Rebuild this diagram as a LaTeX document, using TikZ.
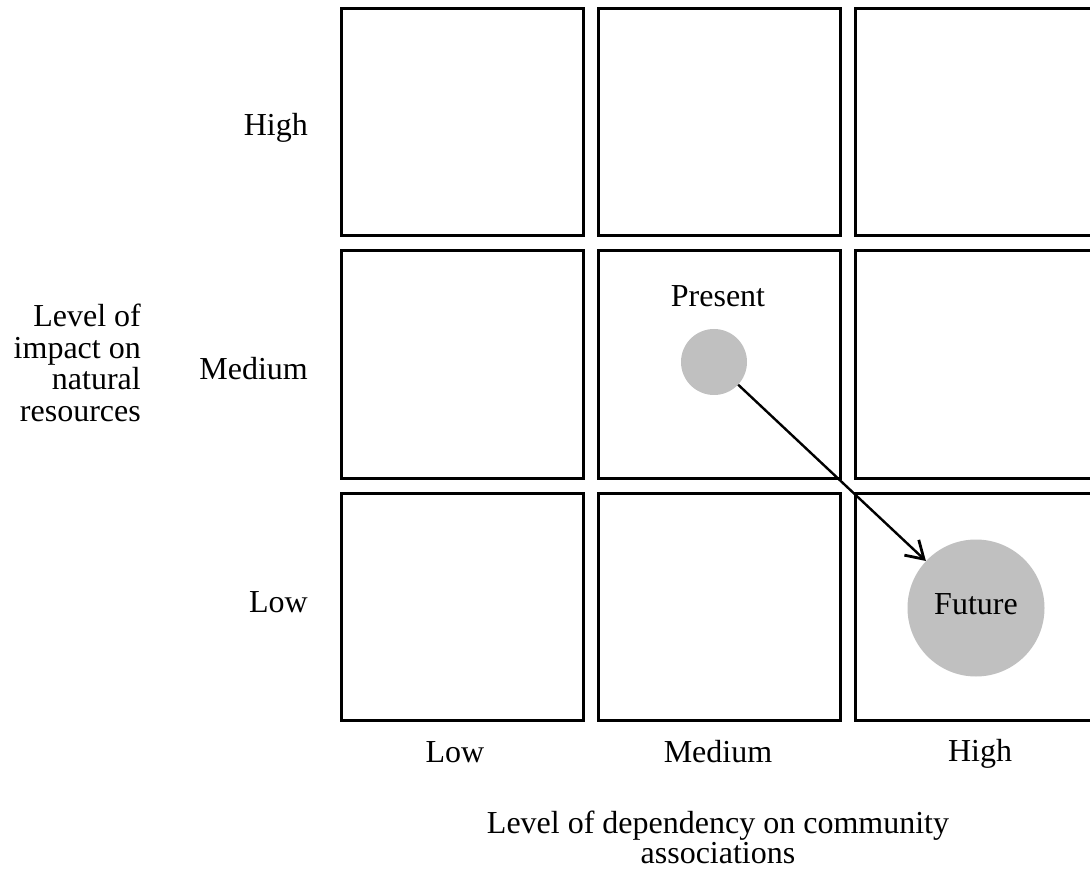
\documentclass[tikz,border=0pt]{standalone}
\usepackage{fontspec}
\setmainfont{Liberation Serif}
\usetikzlibrary{arrows.meta}
\definecolor{dotgray}{RGB}{192,192,192}
\begin{document}
\begin{tikzpicture}[x=1pt,y=-1pt,
  cell/.style={draw=black,line width=3pt},
  lbl/.style={font=\fontsize{32}{34}\selectfont,inner sep=0pt},
  dot/.style={circle,fill=dotgray,inner sep=0pt},
  link/.style={draw=black,line width=2.4pt,-{Straight Barb[length=17pt,width=21pt,line width=2.8pt]}}]
\useasboundingbox (0,0) rectangle (1090,874);
\clip (0,0) rectangle (1090,874);
\fill[white] (0,0) rectangle (1090,874);
% grid
\foreach \r/\ya/\yb in {1/9/236,2/251/478,3/493/720}{
  \draw[cell] (341,\ya) rectangle (583,\yb);
  \draw[cell] (598,\ya) rectangle (840,\yb);
  \draw[cell] (855,\ya) rectangle (1110,\yb);
}
% row labels
\node[lbl,anchor=east] (rh) at (308,128) {High};
\node[lbl,anchor=east] (rm) at (308,369) {Medium};
\node[lbl,anchor=east] (rl) at (308,602) {Low};
% column labels
\node[lbl] (cl) at (455,752) {Low};
\node[lbl] (cm) at (718,752) {Medium};
\node[lbl] (ch) at (980,754) {High};
% axis titles
\node[lbl,align=right,anchor=east,font=\fontsize{32}{31.5}\selectfont] (ytitle) at (141,363) {Level of\\impact on\\natural\\resources};
\node[lbl,align=center,font=\fontsize{32}{30}\selectfont] (xtitle) at (718,837) {Level of dependency on community\\associations};
% circles
\node[dot,minimum size=66pt] (present) at (714,362) {};
\node[lbl] (presentlbl) at (718,296) {Present};
\node[dot,minimum size=137pt] (future) at (976,608) {};
\node[lbl] (futurelbl) at (976,604) {Future};
\draw[link] (present) -- (future);
\end{tikzpicture}
\end{document}
